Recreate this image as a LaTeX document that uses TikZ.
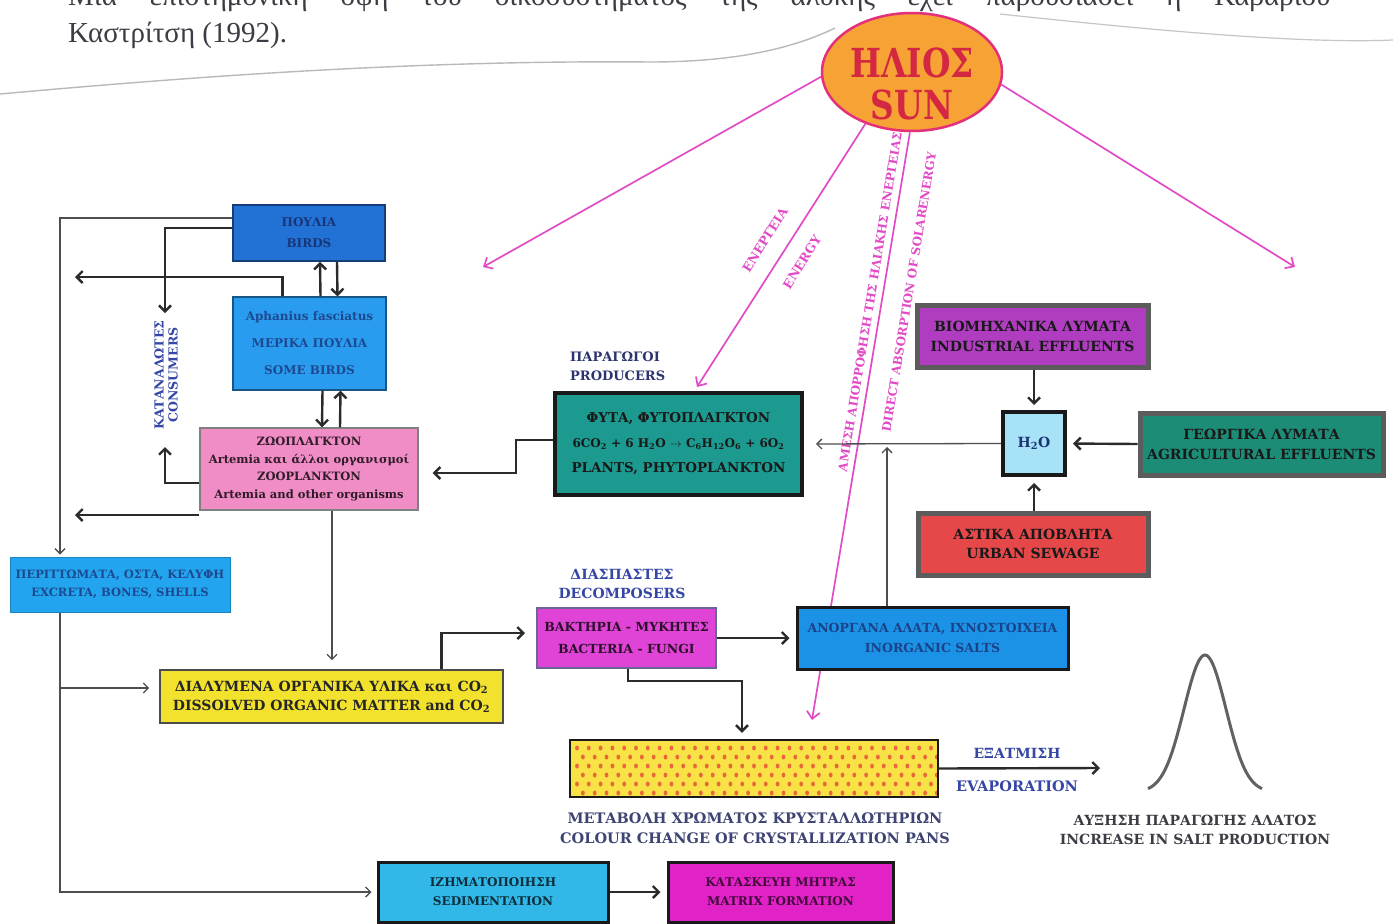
\documentclass[tikz,border=0pt]{standalone}
\usepackage{fontspec}
\usepackage{graphicx}
\setmainfont{Liberation Serif}
\newfontfamily\dvs{DejaVu Serif}
\usetikzlibrary{arrows.meta,shapes.geometric}
\newcommand\fsz[2]{\fontsize{#1}{#2}\selectfont}
\definecolor{linec}{HTML}{2B2B2B}
\definecolor{thinc}{HTML}{4E4E4E}
\definecolor{pinkc}{HTML}{E24BC6}
\definecolor{birdsc}{HTML}{2272D6}
\definecolor{aphc}{HTML}{2A9CF0}
\definecolor{zooc}{HTML}{F08CC6}
\definecolor{excrc}{HTML}{22A4EE}
\definecolor{dissc}{HTML}{F2E22E}
\definecolor{bactc}{HTML}{E044D6}
\definecolor{inorgc}{HTML}{1C92E6}
\definecolor{prodc}{HTML}{1C9A90}
\definecolor{h2oc}{HTML}{A8E2F6}
\definecolor{indc}{HTML}{B03CC0}
\definecolor{agric}{HTML}{1C8C76}
\definecolor{urbc}{HTML}{E6484A}
\definecolor{barc}{HTML}{F8E246}
\definecolor{dotc}{HTML}{E8683A}
\definecolor{sedc}{HTML}{32B8E8}
\definecolor{matc}{HTML}{E022C6}
\definecolor{sunc}{HTML}{F6A235}
\definecolor{sunb}{HTML}{E4307A}
\definecolor{sunt}{HTML}{D42842}
\definecolor{navy}{HTML}{2C3470}
\definecolor{navyb}{HTML}{3646A6}
\definecolor{framec}{HTML}{5C5C5C}
\definecolor{graytxt}{HTML}{3C3C44}
\definecolor{bluetxt}{HTML}{1A3478}
\begin{document}
\begin{tikzpicture}[x=1pt,y=-1pt,
  box/.style={rectangle, inner sep=0pt, align=center},
  lab/.style={inner sep=0pt, align=center},
  thk/.style={draw=linec, line width=2.4pt, -{Straight Barb[length=6pt,width=12pt]}},
  thn/.style={draw=thinc, line width=1.3pt, -{Straight Barb[length=5pt,width=10pt]}},
  ray/.style={draw=pinkc, line width=1.7pt, -{Straight Barb[length=7pt,width=13pt]}},
  plab/.style={inner sep=0pt, text=pinkc, font=\dvs\bfseries\fsz{12}{14}},
  frame/.style={draw=framec, line width=5pt}
]
\useasboundingbox (0,0) rectangle (1393,924);
\clip (0,0) rectangle (1393,924);
\fill[white] (0,0) rectangle (1393,924);

% page text and curl
\node[anchor=base west, inner sep=0pt, text=graytxt, font=\fsz{29}{33}] (txt1) at (68,5)
  {\makebox[1272pt][s]{Μια επιστημονική όψη του οικοσυστήματος της αλυκής έχει παρουσιάσει η Καβαρίου-}};
\node[anchor=base west, inner sep=0pt, text=graytxt, font=\fsz{29}{33}] (txt2) at (68,42) {Καστρίτση (1992).};
\draw[gray!55, line width=1.4pt] (0,94) .. controls (200,76) and (420,60) .. (650,62) .. controls (730,62) and (790,50) .. (835,28);
\draw[gray!45, line width=1.2pt] (1000,14) .. controls (1150,30) and (1300,44) .. (1393,40);

% sun
\node[ellipse, fill=sunc, draw=sunb, line width=2.5pt, minimum width=180pt, minimum height=118pt, inner sep=0pt] (sun) at (912,72) {};
\node[lab, text=sunt, font=\dvs\bfseries\fsz{40}{42}] (suntxt) at (912,84) {\scalebox{0.82}[1]{ΗΛΙΟΣ}\\\scalebox{0.82}[1]{SUN}};

% rays
\coordinate (rL) at (483,267);
\coordinate (rP) at (697,387);
\coordinate (rB) at (812,720);
\coordinate (rR) at (1295,267);
\draw[ray] (sun.183) -- (rL);
\draw[ray] (sun.228) -- (rP);
\draw[ray] (sun.268) -- (rB);
\draw[ray] (sun.352) -- (rR);
\node[plab, rotate=58, font=\dvs\bfseries\fsz{12.5}{14}] (en1) at (765,240) {ΕΝΕΡΓΕΙΑ};
\node[plab, rotate=58, font=\dvs\bfseries\fsz{12.5}{14}] (en2) at (802,262) {ENERGY};
\node[plab, rotate=80.7] (ab1) at (870,302) {ΑΜΕΣΗ ΑΠΟΡΡΟΦΗΣΗ ΤΗΣ ΗΛΙΑΚΗΣ ΕΝΕΡΓΕΙΑΣ};
\node[plab, rotate=80.7] (ab2) at (909,292) {DIRECT ABSORPTION OF SOLARENERGY};

% boxes
\node[box, fill=birdsc, draw=birdsc!55!black, line width=1.6pt, minimum width=152pt, minimum height=56pt,
  text=bluetxt, font=\dvs\bfseries\fsz{12}{21}] (birds) at (309,233) {ΠΟΥΛΙΑ\\BIRDS};
\node[box, fill=aphc, draw=aphc!55!black, line width=1.2pt, minimum width=153pt, minimum height=93pt,
  text=bluetxt!80!aphc, font=\dvs\bfseries\fsz{12}{27}] (aph) at (309.5,343.5) {Aphanius fasciatus\\ΜΕΡΙΚΑ ΠΟΥΛΙΑ\\SOME BIRDS};
\node[box, fill=zooc, draw=gray, line width=1.4pt, minimum width=218pt, minimum height=82pt,
  text=black!80!zooc, font=\dvs\bfseries\fsz{11.5}{17.6}] (zoo) at (309,469)
  {ΖΩΟΠΛΑΓΚΤΟΝ\\Artemia και άλλοι οργανισμοί\\ZOOPLANKTON\\Artemia and other organisms};
\node[box, fill=excrc, draw=excrc!80!black, line width=1pt, minimum width=220pt, minimum height=55pt,
  text=bluetxt!80!excrc, font=\dvs\bfseries\fsz{11.5}{18}] (excr) at (120,584.5) {ΠΕΡΙΤΤΩΜΑΤΑ, ΟΣΤΑ, ΚΕΛΥΦΗ\\EXCRETA, BONES, SHELLS};
\node[box, fill=dissc, draw=black!70, line width=1.6pt, minimum width=343pt, minimum height=53pt,
  text=black!85, font=\dvs\bfseries\fsz{14}{19}] (diss) at (331.5,696.5)
  {ΔΙΑΛΥΜΕΝΑ ΟΡΓΑΝΙΚΑ ΥΛΙΚΑ και CO\textsubscript{2}\\DISSOLVED ORGANIC MATTER and CO\textsubscript{2}};
\node[box, fill=prodc, draw=black!90, line width=4pt, minimum width=247pt, minimum height=102pt,
  text=black!90, font=\dvs\bfseries\fsz{13.5}{25}] (prod) at (678.5,444)
  {ΦΥΤΑ, ΦΥΤΟΠΛΑΓΚΤΟΝ\\{\fsz{12}{25}6CO\textsubscript{2} + 6 H\textsubscript{2}O $\rightarrow$ C\textsubscript{6}H\textsubscript{12}O\textsubscript{6} + 6O\textsubscript{2}}\\PLANTS, PHYTOPLANKTON};
\node[box, fill=h2oc, draw=black!90, line width=4pt, minimum width=62pt, minimum height=63pt,
  text=bluetxt, font=\dvs\bfseries\fsz{14}{16}] (h2o) at (1034,443.5) {H\textsubscript{2}O};
\node[box, fill=indc, frame, minimum width=231pt, minimum height=62pt,
  text=black!90, font=\dvs\bfseries\fsz{14}{20}] (ind) at (1032.5,336) {ΒΙΟΜΗΧΑΝΙΚΑ ΛΥΜΑΤΑ\\INDUSTRIAL EFFLUENTS};
\node[box, fill=agric, frame, minimum width=243pt, minimum height=62pt,
  text=black!90, font=\dvs\bfseries\fsz{14}{20}] (agri) at (1261.5,444) {ΓΕΩΡΓΙΚΑ ΛΥΜΑΤΑ\\AGRICULTURAL EFFLUENTS};
\node[box, fill=urbc, frame, minimum width=230pt, minimum height=62pt,
  text=black!90, font=\dvs\bfseries\fsz{14}{19}] (urban) at (1033,544) {ΑΣΤΙΚΑ ΑΠΟΒΛΗΤΑ\\URBAN SEWAGE};
\node[box, fill=bactc, draw=gray!80!blue, line width=2pt, minimum width=179pt, minimum height=60pt,
  text=black!80!bactc, font=\dvs\bfseries\fsz{12.5}{22}] (bact) at (626.5,638) {ΒΑΚΤΗΡΙΑ - ΜΥΚΗΤΕΣ\\BACTERIA - FUNGI};
\node[box, fill=inorgc, draw=black!90, line width=3pt, minimum width=271pt, minimum height=62pt,
  text=bluetxt!85!inorgc, font=\dvs\bfseries\fsz{12.5}{20}] (inorg) at (932.5,638) {ΑΝΟΡΓΑΝΑ ΑΛΑΤΑ, ΙΧΝΟΣΤΟΙΧΕΙΑ\\INORGANIC SALTS};
\node[box, fill=barc, minimum width=368pt, minimum height=57pt] (bar) at (754,768.5) {};
\begin{scope}
  \clip (bar.south west) rectangle (bar.north east);
  \foreach \r in {0,...,5}{
    \foreach \c in {0,...,31}{
      \fill[dotc] ({577+11.8*\c+5.9*mod(\r,2)},{748+9*\r}) ellipse (1.9pt and 2.5pt);
    }
  }
\end{scope}
\draw[black!90, line width=2pt] (bar.south west) rectangle (bar.north east);
\node[box, fill=sedc, draw=black!90, line width=3pt, minimum width=230pt, minimum height=60pt,
  text=black!75!sedc, font=\dvs\bfseries\fsz{12}{19}] (sed) at (493,892) {ΙΖΗΜΑΤΟΠΟΙΗΣΗ\\SEDIMENTATION};
\node[box, fill=matc, draw=black!90, line width=3pt, minimum width=225pt, minimum height=60pt,
  text=black!70!matc, font=\dvs\bfseries\fsz{12}{19}] (matrix) at (780.5,892) {ΚΑΤΑΣΚΕΥΗ ΜΗΤΡΑΣ\\MATRIX FORMATION};

% labels
\node[lab, align=left, anchor=west, text=navy, font=\dvs\bfseries\fsz{13}{19}] (prodlab) at (570,366.5) {ΠΑΡΑΓΩΓΟΙ\\PRODUCERS};
\node[lab, text=navyb, font=\dvs\bfseries\fsz{14}{19}] (decolab) at (622,584) {ΔΙΑΣΠΑΣΤΕΣ\\DECOMPOSERS};
\node[lab, rotate=90, text=navyb, font=\dvs\bfseries\fsz{12.5}{14}] (conslab) at (166,375) {ΚΑΤΑΝΑΛΩΤΕΣ\\CONSUMERS};
\node[lab, text=navyb, font=\dvs\bfseries\fsz{14}{15}] (ev1) at (1017,753) {ΕΞΑΤΜΙΣΗ};
\node[lab, text=navyb, font=\dvs\bfseries\fsz{14.5}{15}] (ev2) at (1017,786) {EVAPORATION};
\node[lab, text=navy!80!gray, font=\dvs\bfseries\fsz{14.5}{20}] (barlab) at (755,828)
  {ΜΕΤΑΒΟΛΗ ΧΡΩΜΑΤΟΣ ΚΡΥΣΤΑΛΛΩΤΗΡΙΩΝ\\COLOUR CHANGE OF CRYSTALLIZATION PANS};
\node[lab, text=graytxt, font=\dvs\bfseries\fsz{14}{19}] (saltlab) at (1195,829.5)
  {ΑΥΞΗΣΗ ΠΑΡΑΓΩΓΗΣ ΑΛΑΤΟΣ\\INCREASE IN SALT PRODUCTION};

% bell curve
\draw[color=black!62, line width=3pt] plot[smooth, domain=-2.85:2.85, samples=61] ({1205+20*\x},{792-137*exp(-((\x)^2)/2.2)});

% connectors
\coordinate (consT) at (165,313);
\coordinate (consB) at (165,447);
\coordinate (aphL) at (75,277);
\coordinate (zooL) at (75,515);
\coordinate (brS) at (60,688);
\coordinate (upT) at (887,447);
\coordinate (evT) at (1100,768);
\draw[thn, shorten >=2pt] ([yshift=15pt]birds.west) -| ([xshift=-60pt]excr.north);
\draw[thk] ([yshift=5pt]birds.west) -| (consT);
\draw[thk] ([xshift=-27pt]aph.north) |- (aphL);
\draw[thk] ([xshift=11pt]aph.north) -- ([xshift=11pt]birds.south);
\draw[thk] ([xshift=28pt]birds.south) -- ([xshift=28pt]aph.north);
\draw[thk] ([xshift=13pt]aph.south) -- ([xshift=13pt]zoo.north);
\draw[thk] ([xshift=31pt]zoo.north) -- ([xshift=31pt]aph.south);
\draw[thk] ([yshift=-14pt]zoo.west) -| (consB);
\draw[thk] ([yshift=-46pt]zoo.west) -- (zooL);
\draw[thn, shorten >=9pt] ([xshift=23pt]zoo.south) -- ([xshift=0.5pt]diss.north);
\draw[thn, shorten >=5pt] ([xshift=-60pt]excr.south) |- (sed.west);
\draw[thn, shorten >=10pt] (brS) -- ([yshift=8.5pt]diss.west);
\draw[thk, shorten >=11pt] ([xshift=110pt]diss.north) |- ([yshift=5pt]bact.west);
\draw[thk, shorten >=6pt] (bact.east) -- (inorg.west);
\draw[thk, shorten >=7pt] ([xshift=1.5pt]bact.south) -- ++(0,12) -| ([xshift=-12pt]bar.north);
\draw[thn] ([xshift=-45.5pt]inorg.north) -- (upT);
\draw[thn, shorten >=12pt] (h2o.west) -- (prod.east);
\draw[thk, shorten >=14pt] ([yshift=4pt]prod.west) -- ++(-37,0) |- ([yshift=-4pt]zoo.east);
\draw[thk, shorten >=5pt] (ind.south -| h2o.north) -- (h2o.north);
\draw[thk, shorten >=6pt] (agri.west) -- (h2o.east);
\draw[thk, shorten >=6pt] (urban.north -| h2o.south) -- (h2o.south);
\draw[thk] (bar.east) -- (evT);
\draw[thk, shorten >=6pt] (sed.east) -- (matrix.west);
\end{tikzpicture}
\end{document}
